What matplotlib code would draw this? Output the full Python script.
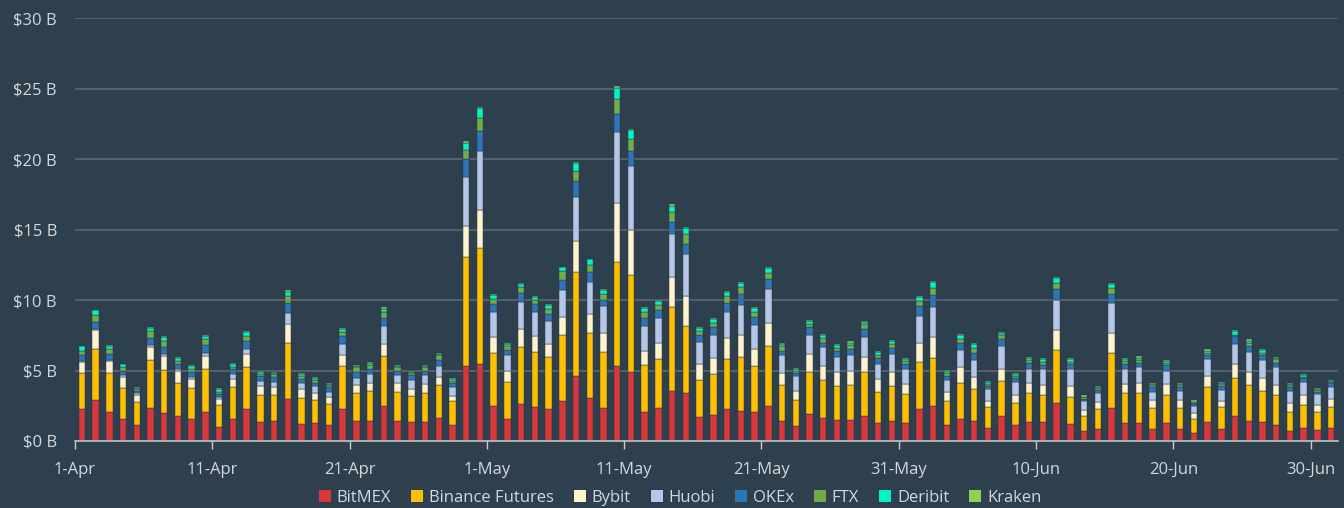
import matplotlib
matplotlib.use("Agg")
import matplotlib.pyplot as plt
from matplotlib.patches import Patch
import numpy as np
import pandas as pd

# ---------------- data (USD billions) ----------------
start_date = "2020-04-01"
n_days = 92
dates = pd.date_range(start_date, periods=n_days, freq="D")

series_names = ["BitMEX", "Binance Futures", "Bybit", "Huobi", "OKEx", "FTX", "Deribit", "Kraken"]

bitmex = [2.25, 2.91, 2.09, 1.59, 1.11, 2.35, 2.01, 1.78, 1.59, 2.09,
          1.02, 1.59, 2.25, 1.35, 1.42, 3.01, 1.18, 1.28, 1.12, 2.28,
          1.45, 1.45, 2.51, 1.45, 1.38, 1.38, 1.61, 1.14, 5.33, 5.50,
          2.51, 1.54, 2.61, 2.44, 2.28, 2.87, 4.62, 3.08, 2.32, 5.33,
          4.93, 2.09, 2.32, 3.58, 3.44, 1.68, 1.85, 2.25, 2.16, 2.09,
          2.51, 1.42, 1.09, 1.92, 1.61, 1.49, 1.49, 1.78, 1.26, 1.42,
          1.26, 2.25, 2.49, 1.11, 1.59, 1.42, 0.95, 1.78, 1.11, 1.35,
          1.35, 2.68, 1.18, 0.69, 0.85, 2.35, 1.26, 1.26, 0.85, 1.26,
          0.85, 0.59, 1.35, 0.85, 1.78, 1.42, 1.35, 1.11, 0.69, 0.95,
          0.78, 0.95]

binance = [2.56, 3.63, 2.72, 2.15, 1.64, 3.41, 3.06, 2.37, 2.18, 3.05,
           1.56, 2.25, 2.99, 1.90, 1.83, 3.96, 1.90, 1.63, 1.49, 3.05,
           1.99, 2.13, 3.49, 2.06, 1.82, 2.06, 2.33, 1.73, 7.71, 8.20,
           3.73, 2.63, 4.05, 3.89, 3.65, 4.62, 7.35, 4.58, 4.01, 7.38,
           6.88, 3.32, 3.51, 5.90, 4.69, 2.66, 2.92, 3.56, 3.77, 3.24,
           4.25, 2.56, 1.83, 3.01, 2.73, 2.42, 2.49, 3.13, 2.22, 2.49,
           2.08, 3.39, 3.41, 1.73, 2.56, 2.25, 1.49, 2.49, 1.57, 2.04,
           1.92, 3.79, 1.97, 1.09, 1.40, 3.88, 2.13, 2.13, 1.50, 1.99,
           1.50, 0.97, 2.49, 1.57, 2.72, 2.56, 2.23, 2.16, 1.40, 1.63,
           1.31, 1.47]

bybit = [0.83, 1.35, 0.90, 0.83, 0.52, 0.88, 0.93, 0.80, 0.66, 0.90,
         0.43, 0.57, 0.90, 0.66, 0.59, 1.35, 0.59, 0.50, 0.48, 0.79,
         0.54, 0.52, 0.90, 0.59, 0.50, 0.57, 0.59, 0.33, 2.25, 2.73,
         1.13, 0.81, 1.31, 1.14, 0.97, 1.31, 2.21, 1.37, 1.33, 4.19,
         3.20, 1.01, 1.16, 2.14, 2.18, 1.14, 1.11, 1.49, 1.61, 1.21,
         1.61, 0.83, 0.64, 1.21, 0.99, 1.00, 1.00, 1.06, 0.95, 1.00,
         0.74, 1.35, 1.47, 0.64, 1.11, 0.90, 0.40, 0.87, 0.59, 0.76,
         0.71, 1.42, 0.76, 0.40, 0.52, 1.42, 0.66, 0.76, 0.56, 0.80,
         0.56, 0.43, 0.80, 0.42, 0.97, 0.95, 0.92, 0.71, 0.59, 0.69,
         0.49, 0.59]

huobi = [0.07, 0.05, 0.05, 0.12, 0.12, 0.14, 0.18, 0.14, 0.10, 0.19,
         0.14, 0.33, 0.40, 0.33, 0.33, 0.73, 0.43, 0.50, 0.42, 0.78,
         0.52, 0.67, 1.23, 0.55, 0.64, 0.66, 0.80, 0.66, 3.46, 4.15,
         1.78, 1.09, 1.89, 1.68, 1.59, 1.94, 3.15, 2.26, 1.89, 5.03,
         4.50, 1.71, 1.73, 3.08, 2.97, 1.58, 1.66, 1.83, 2.09, 1.69,
         2.42, 1.28, 1.02, 1.40, 1.33, 1.07, 1.09, 1.42, 1.07, 1.23,
         1.01, 1.90, 2.11, 0.86, 1.21, 1.19, 0.83, 1.57, 0.90, 0.99,
         1.11, 2.13, 1.23, 0.66, 0.67, 2.14, 1.09, 1.09, 0.60, 0.95,
         0.67, 0.52, 1.17, 0.79, 1.43, 1.40, 1.26, 1.26, 0.90, 0.90,
         0.76, 0.81]

okex = [0.40, 0.54, 0.40, 0.29, 0.14, 0.52, 0.46, 0.38, 0.38, 0.57,
        0.19, 0.38, 0.57, 0.38, 0.40, 0.74, 0.31, 0.24, 0.30, 0.57,
        0.41, 0.37, 0.59, 0.33, 0.31, 0.31, 0.43, 0.24, 1.28, 1.42,
        0.57, 0.40, 0.67, 0.57, 0.52, 0.71, 1.09, 0.73, 0.48, 1.30,
        1.07, 0.59, 0.60, 0.85, 0.73, 0.43, 0.52, 0.66, 0.80, 0.57,
        0.73, 0.31, 0.23, 0.52, 0.29, 0.40, 0.45, 0.55, 0.38, 0.45,
        0.38, 0.66, 0.88, 0.30, 0.52, 0.47, 0.24, 0.52, 0.28, 0.38,
        0.31, 0.76, 0.33, 0.12, 0.19, 0.66, 0.33, 0.31, 0.35, 0.40,
        0.24, 0.10, 0.30, 0.28, 0.52, 0.42, 0.35, 0.33, 0.28, 0.28,
        0.17, 0.28]

ftx = [0.31, 0.48, 0.38, 0.26, 0.14, 0.52, 0.47, 0.24, 0.23, 0.43,
       0.17, 0.16, 0.35, 0.14, 0.19, 0.47, 0.21, 0.19, 0.17, 0.26,
       0.31, 0.24, 0.41, 0.26, 0.16, 0.24, 0.31, 0.19, 0.60, 0.90,
       0.38, 0.24, 0.40, 0.31, 0.38, 0.59, 0.74, 0.47, 0.40, 1.07,
       0.83, 0.41, 0.31, 0.69, 0.69, 0.29, 0.31, 0.48, 0.48, 0.37,
       0.41, 0.31, 0.19, 0.24, 0.35, 0.25, 0.28, 0.35, 0.23, 0.31,
       0.24, 0.36, 0.52, 0.17, 0.24, 0.36, 0.14, 0.28, 0.17, 0.24,
       0.24, 0.43, 0.17, 0.14, 0.11, 0.40, 0.24, 0.21, 0.10, 0.17,
       0.14, 0.09, 0.17, 0.14, 0.12, 0.19, 0.17, 0.24, 0.10, 0.12,
       0.12, 0.12]

deribit = [0.29, 0.31, 0.21, 0.19, 0.12, 0.19, 0.24, 0.21, 0.19, 0.19,
           0.19, 0.22, 0.27, 0.15, 0.10, 0.33, 0.14, 0.14, 0.08, 0.21,
           0.11, 0.14, 0.23, 0.07, 0.12, 0.11, 0.12, 0.14, 0.54, 0.76,
           0.28, 0.19, 0.21, 0.19, 0.26, 0.29, 0.54, 0.41, 0.31, 0.78,
           0.66, 0.31, 0.30, 0.47, 0.43, 0.21, 0.28, 0.30, 0.30, 0.29,
           0.33, 0.19, 0.10, 0.19, 0.22, 0.19, 0.19, 0.19, 0.22, 0.19,
           0.10, 0.30, 0.38, 0.17, 0.26, 0.28, 0.12, 0.17, 0.14, 0.12,
           0.17, 0.35, 0.19, 0.05, 0.12, 0.31, 0.14, 0.14, 0.07, 0.12,
           0.09, 0.10, 0.14, 0.10, 0.28, 0.19, 0.19, 0.09, 0.07, 0.10,
           0.04, 0.05]

kraken = [0.04, 0.04, 0.05, 0.07, 0.05, 0.07, 0.07, 0.07, 0.07, 0.07,
          0.07, 0.07, 0.09, 0.07, 0.07, 0.10, 0.05, 0.09, 0.04, 0.07,
          0.08, 0.08, 0.12, 0.10, 0.07, 0.08, 0.07, 0.07, 0.12, 0.07,
          0.08, 0.07, 0.07, 0.07, 0.07, 0.05, 0.07, 0.04, 0.05, 0.12,
          0.10, 0.07, 0.07, 0.12, 0.07, 0.07, 0.07, 0.07, 0.10, 0.07,
          0.09, 0.07, 0.07, 0.07, 0.07, 0.07, 0.10, 0.07, 0.07, 0.07,
          0.09, 0.10, 0.09, 0.07, 0.07, 0.10, 0.07, 0.07, 0.07, 0.09,
          0.07, 0.08, 0.07, 0.10, 0.07, 0.05, 0.05, 0.10, 0.07, 0.07,
          0.10, 0.09, 0.12, 0.07, 0.07, 0.10, 0.09, 0.07, 0.07, 0.09,
          0.10, 0.07]

x_tick_labels = ["1-Apr", "11-Apr", "21-Apr", "1-May", "11-May",
                 "21-May", "31-May", "10-Jun", "20-Jun", "30-Jun"]
y_tick_values = [0, 5, 10, 15, 20, 25, 30]
y_tick_labels = ["$0 B", "$5 B", "$10 B", "$15 B", "$20 B", "$25 B", "$30 B"]

# ---------------- style ----------------
colors = ["#d8373b", "#ffc000", "#fff2cc", "#b4c7e7", "#2e75b6", "#70ad47", "#00f5c4", "#92d050"]
bg = "#2e3f4d"
txt = "#d4d7da"
grid_c = "#606c77"

plt.rcParams["font.family"] = ["Open Sans", "DejaVu Sans"]

fig = plt.figure(figsize=(13.44, 5.08), dpi=100, facecolor=bg)
ax = fig.add_axes([75 / 1344, 67 / 508, (1338 - 75) / 1344, (441 - 18.3) / 508])
ax.set_facecolor(bg)

all_series = [bitmex, binance, bybit, huobi, okex, ftx, deribit, kraken]
x = np.arange(n_days)
bottom = np.zeros(n_days)
for name, vals, c in zip(series_names, all_series, colors):
    v = np.array(vals, dtype=float)
    ax.bar(x, v, width=0.47, bottom=bottom, color=c, edgecolor="#2b3a46",
           linewidth=0.35, zorder=3, label=name)
    bottom += v

ax.set_xlim(-0.5, n_days - 0.5)
ax.set_ylim(0, 30)

ax.set_yticks(y_tick_values)
ax.set_yticklabels(y_tick_labels)
ax.yaxis.grid(True, color=grid_c, linewidth=1.1, zorder=0)
ax.tick_params(axis="y", length=0, pad=13, labelsize=12, labelcolor=txt)

tick_pos = [i * 10 - 0.5 for i in range(len(x_tick_labels))]
ax.set_xticks(tick_pos)
ax.set_xticklabels(x_tick_labels)
ax.tick_params(axis="x", length=6, width=1, color="#c8ccd0", pad=9,
               labelsize=12, labelcolor=txt)

for s in ["top", "right", "left"]:
    ax.spines[s].set_visible(False)
ax.spines["bottom"].set_color("#c8ccd0")
ax.spines["bottom"].set_linewidth(1.1)
ax.spines["bottom"].set_zorder(4)

handles = [Patch(facecolor=c, edgecolor="none") for c in colors]
leg = fig.legend(handles, series_names, loc="center", ncol=8,
                 bbox_to_anchor=(680 / 1344, 1 - 498 / 508),
                 frameon=False, fontsize=12, labelcolor=txt,
                 handlelength=0.72, handleheight=0.72, handletextpad=0.35,
                 columnspacing=1.2, borderaxespad=0)

fig.savefig("out.png", dpi=100, facecolor=bg)
